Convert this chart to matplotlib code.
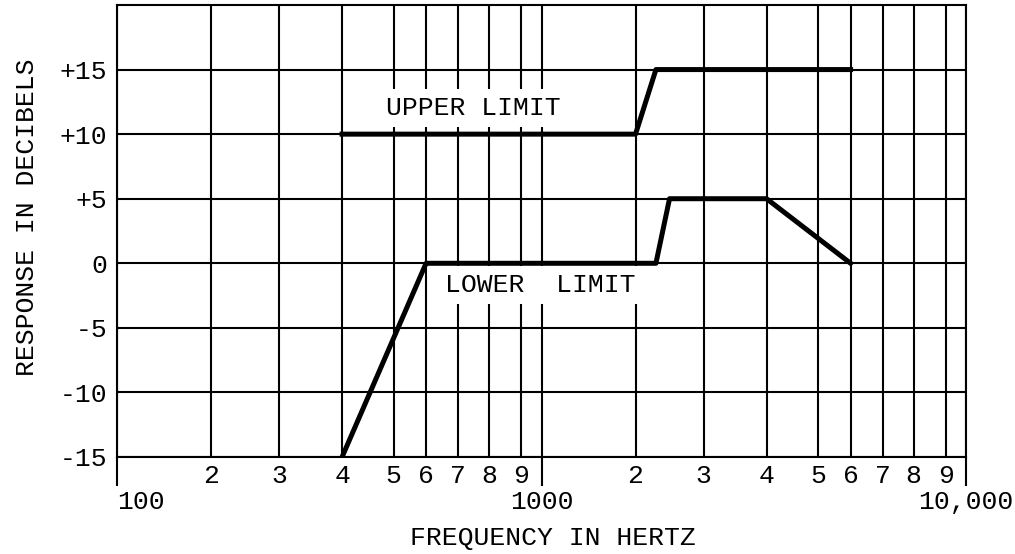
import numpy as np
import matplotlib
matplotlib.use("Agg")
import matplotlib.pyplot as plt
from matplotlib.ticker import FixedLocator

plt.rcParams['font.family'] = ['Liberation Mono', 'DejaVu Sans Mono']

# response limits, frequency in Hz / level in dB
upper_freq = [400, 2000, 2300, 6000]
upper_db = [10, 10, 15, 15]
lower_freq = [400, 600, 2300, 2500, 4000, 6000]
lower_db = [-15, 0, 0, 5, 5, 0]

y_ticks = [-15, -10, -5, 0, 5, 10, 15]
y_labels = ["-15", "-10", "-5", "0", "+5", "+10", "+15"]
decades = [100, 1000, 10000]
decade_labels = ["100", "1000", "10,000"]
digits = [2, 3, 4, 5, 6, 7, 8, 9]

# spacing of the 1..10 rulings across one cycle of the printed log paper
cycle_mult = np.arange(1, 11)
cycle_pos = np.array([0, 0.2215, 0.3817, 0.5302, 0.6514, 0.7281,
                      0.8035, 0.8765, 0.9519, 1.0])


def paper_fwd(f):
    f = np.asarray(f, dtype=float)
    d = np.log10(np.where(f > 0, f, 1e-300))
    dec = np.floor(d)
    m = 10 ** (d - dec)
    return dec + np.interp(m, cycle_mult, cycle_pos)


def paper_inv(p):
    p = np.asarray(p, dtype=float)
    dec = np.floor(p)
    m = np.interp(p - dec, cycle_pos, cycle_mult)
    return m * 10 ** dec


fig = plt.figure(figsize=(10.15, 5.54), dpi=100)
ax = fig.add_axes([117 / 1015, 1 - 457 / 554, 849 / 1015, 452 / 554])
ax.set_xscale('function', functions=(paper_fwd, paper_inv))
ax.set_xlim(100, 10000)
ax.set_ylim(-15, 20)

minor = [d * 10 ** k for k in (2, 3) for d in digits]
ax.xaxis.set_major_locator(FixedLocator(decades))
ax.xaxis.set_minor_locator(FixedLocator(minor))
ax.set_xticklabels(decade_labels)
ax.set_xticklabels([str(d) for d in digits] * 2, minor=True)
ax.set_yticks(y_ticks)
ax.set_yticklabels(y_labels)

ax.tick_params(axis='x', which='major', length=21, width=1.5, pad=3,
               direction='out', labelsize=19)
ax.tick_params(axis='x', which='minor', length=0, pad=5, labelsize=19)
ax.tick_params(axis='y', length=0, pad=7, labelsize=19)
labs = ax.get_xticklabels()
labs[0].set_ha('left')
labs[-1].set_ha('center')

ax.grid(True, which='both', color='black', linewidth=1.5)
ax.set_axisbelow(True)
for s in ax.spines.values():
    s.set_linewidth(1.5)

ax.plot(upper_freq, upper_db, color='black', linewidth=3.6, zorder=5)
ax.plot(lower_freq, lower_db, color='black', linewidth=3.6, zorder=5)

box = dict(facecolor='white', edgecolor='none', pad=5)
ax.text(750, 12.0, "UPPER LIMIT", fontsize=19, ha='center', va='center',
        bbox=box, zorder=3)
ax.text(995, -1.7, "LOWER  LIMIT", fontsize=19, ha='center', va='center',
        bbox=box, zorder=3)

fig.text(27 / 1015, 1 - 217 / 554, "RESPONSE IN DECIBELS", fontsize=19,
         rotation=90, ha='center', va='center')
fig.text(553 / 1015, 1 - 538 / 554, "FREQUENCY IN HERTZ", fontsize=19,
         ha='center', va='center')

fig.savefig("out.png", dpi=100)
